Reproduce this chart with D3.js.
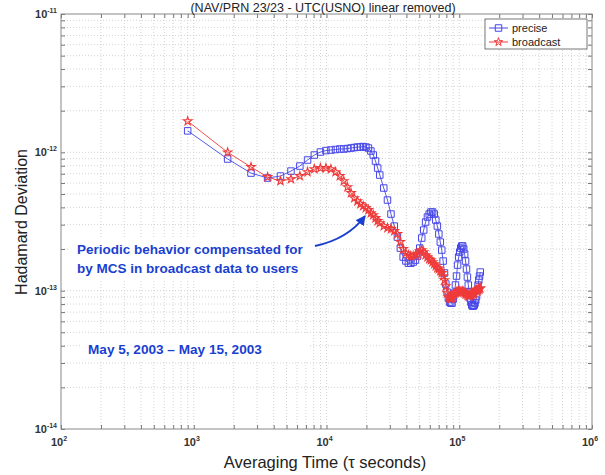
<!DOCTYPE html>
<html><head><meta charset="utf-8">
<script src="https://cdn.jsdelivr.net/npm/d3@7"></script>
<style>
body{margin:0;background:#fff;}
svg{display:block;font-family:Arial,"Liberation Sans",sans-serif;}
</style></head><body>
<svg id="c" width="605" height="475"></svg>
<script>
// ---- data ----
const tau = [900,1800,2700,3600,4500,5400,6300,7200,8100,9000,9900,10800,11700,12600,13500,14400,15300,16200,17100,18000,18900,19800,20700,21600,22500,23400,24300,25200,
27000,28800,30600,32400,34200,36000,37800,39600,41400,43200,
45000,46800,48600,50400,52200,54000,55800,57600,59400,61200,63000,64800,66600,68400,70200,72000,73800,75600,77400,79200,81000,82800,84600,86400,88200,90000,91800,93600,95400,97200,99000,100800,102600,104400,106200,108000,109800,111600,113400,115200,117000,118800,120600,122400,124200,126000,127800,129600,131400,133200,135000,136800,138600,140400,142200,144000];
const precise = [1.43e-12,8.95e-13,7.08e-13,6.52e-13,6.74e-13,7.32e-13,7.96e-13,8.80e-13,9.56e-13,1.005e-12,1.030e-12,1.039e-12,1.048e-12,1.057e-12,1.057e-12,1.065e-12,1.074e-12,1.083e-12,1.092e-12,1.092e-12,1.101e-12,1.092e-12,1.074e-12,1.022e-12,9.56e-13,8.65e-13,7.70e-13,6.85e-13,
5.52e-13,4.52e-13,3.58e-13,2.93e-13,2.44e-13,2.03e-13,1.75e-13,1.64e-13,1.58e-13,1.58e-13,
1.610e-13,1.664e-13,1.779e-13,2.032e-13,2.401e-13,2.744e-13,3.133e-13,3.406e-13,3.580e-13,3.701e-13,3.701e-13,3.580e-13,3.240e-13,2.932e-13,2.567e-13,2.246e-13,1.966e-13,1.637e-13,1.341e-13,1.116e-13,9.77e-14,8.84e-14,8.27e-14,8.13e-14,8.13e-14,8.70e-14,9.61e-14,1.098e-13,1.275e-13,1.531e-13,1.750e-13,1.901e-13,2.032e-13,2.101e-13,2.101e-13,2.000e-13,1.839e-13,1.637e-13,1.433e-13,1.254e-13,1.098e-13,9.77e-14,8.84e-14,8.27e-14,7.87e-14,7.74e-14,7.74e-14,7.87e-14,8.13e-14,8.55e-14,9.14e-14,1.010e-13,1.098e-13,1.193e-13,1.275e-13,1.363e-13];
const broadcast = [1.68e-12,1.00e-12,7.83e-13,6.63e-13,6.20e-13,6.41e-13,6.74e-13,7.20e-13,7.57e-13,7.70e-13,7.70e-13,7.57e-13,7.20e-13,6.74e-13,6.20e-13,5.61e-13,5.08e-13,4.67e-13,4.44e-13,4.23e-13,4.09e-13,3.96e-13,3.83e-13,3.64e-13,3.52e-13,3.35e-13,3.19e-13,3.08e-13,
2.93e-13,2.84e-13,2.79e-13,2.70e-13,2.57e-13,2.25e-13,2.00e-13,1.87e-13,1.81e-13,1.78e-13,
1.779e-13,1.809e-13,1.839e-13,1.933e-13,1.966e-13,1.901e-13,1.809e-13,1.750e-13,1.692e-13,1.664e-13,1.610e-13,1.557e-13,1.506e-13,1.457e-13,1.433e-13,1.386e-13,1.341e-13,1.275e-13,1.193e-13,1.080e-13,9.61e-14,8.99e-14,8.84e-14,8.70e-14,8.84e-14,9.14e-14,9.45e-14,9.61e-14,9.77e-14,9.77e-14,9.93e-14,9.93e-14,9.77e-14,9.77e-14,9.93e-14,9.77e-14,9.61e-14,9.45e-14,9.45e-14,9.30e-14,9.14e-14,9.14e-14,9.30e-14,9.30e-14,9.45e-14,9.61e-14,9.45e-14,9.61e-14,9.93e-14,1.010e-13,1.010e-13,9.93e-14,1.010e-13,1.027e-13,1.027e-13,1.044e-13];
const seriesNames = ["precise","broadcast"];
const xTickExp = ["2","3","4","5","6"];
const yTickExp = ["-14","-13","-12","-11"];
const titleText = "(NAV/PRN 23/23 - UTC(USNO) linear removed)";
const xLabel = "Averaging Time (\u03c4 seconds)";
const yLabel = "Hadamard Deviation";
const note1 = ["Periodic behavior compensated for","by MCS in broadcast data to users"];
const note2 = "May 5, 2003 \u2013 May 15, 2003";

// ---- layout ----
const L=61,R=592,T=14,B=429;
const svg=d3.select("#c");
const x=d3.scaleLog().domain([1e2,1e6]).range([L,R]);
const y=d3.scaleLog().domain([1e-14,1e-11]).range([B,T]);
const blue="#4646e8", red="#f03a3a", navy="#1a3fd0";

function logTicks(lo,hi){const a=[];for(let e=lo;e<hi;e++){for(let m=1;m<10;m++)a.push(m*Math.pow(10,e));}a.push(Math.pow(10,hi));return a;}
const xt=logTicks(2,6), yt=logTicks(-14,-11);

// grid
const grid=svg.append("g").attr("stroke","#c8c8c8").attr("stroke-width",0.8).attr("stroke-dasharray","1,2");
grid.selectAll(".gx").data(xt.slice(1,-1)).join("line").attr("x1",d=>x(d)).attr("x2",d=>x(d)).attr("y1",T).attr("y2",B);
grid.selectAll(".gy").data(yt.slice(1,-1)).join("line").attr("y1",d=>y(d)).attr("y2",d=>y(d)).attr("x1",L).attr("x2",R);

// ticks (inward) on all four sides via d3 axes
const fmtNone=()=>"";
function styleAx(g){g.select(".domain").remove();g.selectAll("line").attr("stroke","#777");}
svg.append("g").attr("transform",`translate(0,${B})`).call(d3.axisTop(x).tickValues(xt).tickSize(4).tickFormat(fmtNone)).call(styleAx);
svg.append("g").attr("transform",`translate(0,${T})`).call(d3.axisBottom(x).tickValues(xt).tickSize(4).tickFormat(fmtNone)).call(styleAx);
svg.append("g").attr("transform",`translate(${L},0)`).call(d3.axisRight(y).tickValues(yt).tickSize(4).tickFormat(fmtNone)).call(styleAx);
svg.append("g").attr("transform",`translate(${R},0)`).call(d3.axisLeft(y).tickValues(yt).tickSize(4).tickFormat(fmtNone)).call(styleAx);
svg.append("rect").attr("x",L).attr("y",T).attr("width",R-L).attr("height",B-T).attr("fill","none").attr("stroke","#888").attr("stroke-width",1);

// tick labels
const xMaj=xTickExp.map(e=>Math.pow(10,+e));
const xl=svg.append("g").attr("fill","#333").attr("font-size",11).attr("font-weight","bold");
xMaj.forEach((v,i)=>{const t=xl.append("text").attr("x",x(v)-2).attr("y",B+17).attr("text-anchor","middle");
  t.append("tspan").text("10");t.append("tspan").attr("dy",-5).attr("font-size",7).text(xTickExp[i]);});
const yMaj=yTickExp.map(e=>Math.pow(10,+e));
yMaj.forEach((v,i)=>{const t=xl.append("text").attr("x",L-4).attr("y",y(v)+4).attr("text-anchor","end");
  t.append("tspan").text("10");t.append("tspan").attr("dy",-5).attr("font-size",7).text(yTickExp[i]);});

// axis labels + title
svg.append("text").attr("x",325).attr("y",468).attr("text-anchor","middle").attr("font-size",16.5).attr("fill","#222").text(xLabel);
svg.append("text").attr("transform",`translate(27,222) rotate(-90)`).attr("text-anchor","middle").attr("font-size",16).attr("fill","#222").text(yLabel);
svg.append("text").attr("x",323).attr("y",12).attr("text-anchor","middle").attr("font-size",12.5).attr("fill","#222").text(titleText);

// annotation backgrounds
svg.append("rect").attr("x",70).attr("y",238).attr("width",244).attr("height",42).attr("fill","#fff");
svg.append("rect").attr("x",80).attr("y",334).attr("width",228).attr("height",28).attr("fill","#fff");

// series
const line=d3.line().x(d=>x(d[0])).y(d=>y(d[1]));
const pData=tau.map((t,i)=>[t,precise[i]]), bData=tau.map((t,i)=>[t,broadcast[i]]);
const sq=d3.symbol().type(d3.symbolSquare).size(42);
const st=d3.symbol().type(d3.symbolStar).size(22);
svg.append("path").datum(pData).attr("d",line).attr("fill","none").attr("stroke",blue).attr("stroke-width",0.9);
svg.append("g").selectAll("path").data(pData).join("path").attr("d",sq).attr("transform",d=>`translate(${x(d[0])},${y(d[1])})`).attr("fill","none").attr("stroke",blue).attr("stroke-width",1);
svg.append("path").datum(bData).attr("d",line).attr("fill","none").attr("stroke",red).attr("stroke-width",0.9);
svg.append("g").selectAll("path").data(bData).join("path").attr("d",st).attr("transform",d=>`translate(${x(d[0])},${y(d[1])})`).attr("fill","none").attr("stroke",red).attr("stroke-width",1.1);

// legend
const lg=svg.append("g");
lg.append("rect").attr("x",485).attr("y",19).attr("width",102).attr("height",30).attr("fill","#fff").attr("stroke","#555").attr("stroke-width",0.8);
seriesNames.forEach((n,i)=>{const yy=28+i*14;const c=i?red:blue;
  lg.append("line").attr("x1",489).attr("x2",508).attr("y1",yy).attr("y2",yy).attr("stroke",c);
  lg.append("path").attr("d",i?st:sq).attr("transform",`translate(498.5,${yy})`).attr("fill","none").attr("stroke",c);
  lg.append("text").attr("x",512).attr("y",yy+4).attr("font-size",11).attr("fill","#222").text(n);});

// notes
const nt=svg.append("text").attr("font-size",13.5).attr("font-weight","bold").attr("fill",navy);
note1.forEach((s,i)=>nt.append("tspan").attr("x",77).attr("y",254+i*19).text(s));
svg.append("text").attr("x",88).attr("y",354).attr("font-size",13.6).attr("font-weight","bold").attr("fill",navy).text(note2);

// arrow
svg.append("defs").append("marker").attr("id","ah").attr("viewBox","0 0 10 10").attr("refX",9).attr("refY",5)
 .attr("markerWidth",5).attr("markerHeight",5).attr("orient","auto").append("path").attr("d","M0,0L10,5L0,10z").attr("fill",navy);
svg.append("path").attr("d","M315,246 Q348,239 365,216").attr("fill","none").attr("stroke",navy).attr("stroke-width",2).attr("marker-end","url(#ah)");
</script></body></html>
